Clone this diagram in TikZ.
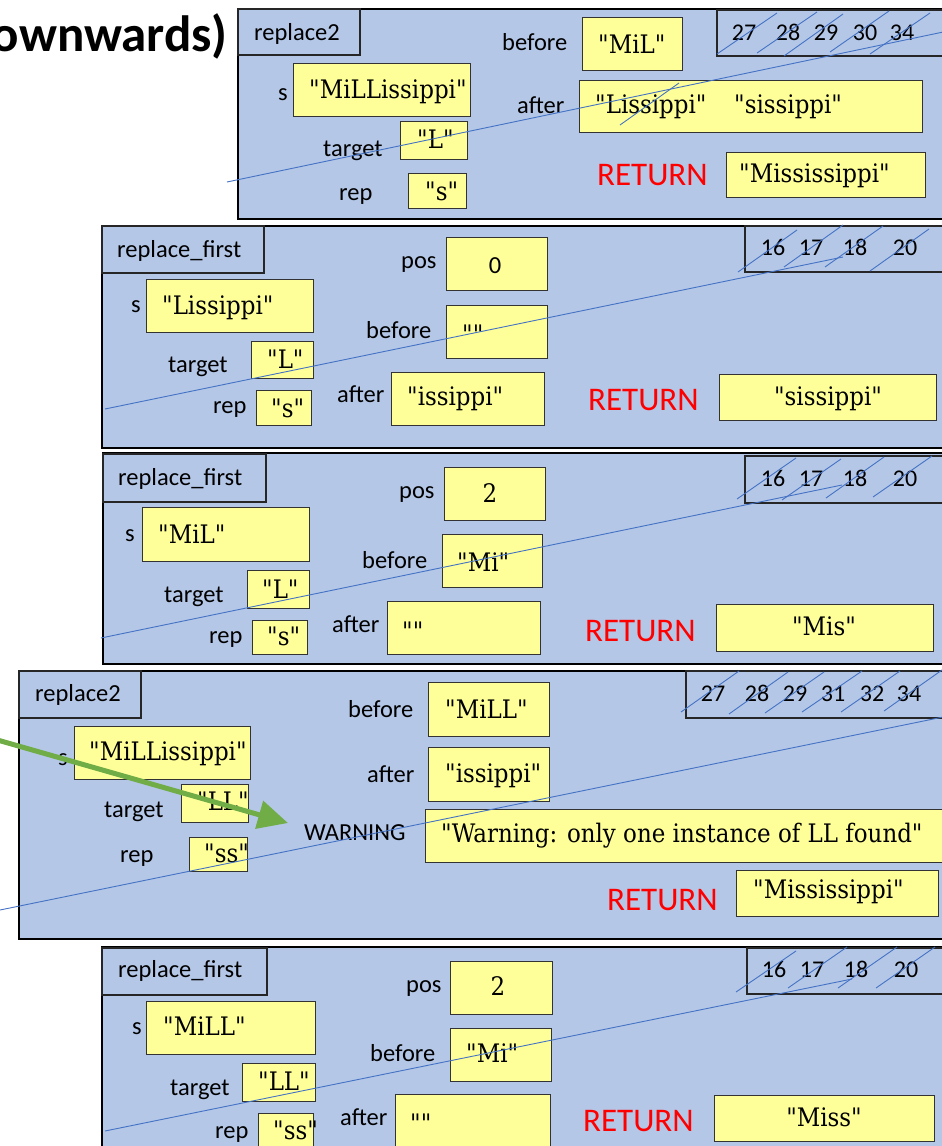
\documentclass[tikz,border=0pt]{standalone}
\usepackage{fontspec}
\setmainfont{Carlito}
\newfontfamily\valfont{DejaVu Serif}[FakeStretch=0.9]
\newfontfamily\labfont{Carlito}
\usetikzlibrary{arrows.meta}
\definecolor{framebg}{HTML}{B4C7E7}
\definecolor{valbg}{HTML}{FFFF99}
\definecolor{strike}{HTML}{4472C4}
\definecolor{arrowgreen}{HTML}{70AD47}
\tikzset{
  frame/.style={draw=black, line width=2pt, fill=framebg},
  tagbox/.style={draw=black!85, line width=1.5pt, fill=framebg},
  timebox/.style={draw=black!85, line width=1.5pt},
  valbox/.style={draw=black!80, line width=1.4pt, fill=valbg},
  lab/.style={font=\labfont\fontsize{24.5}{28}\selectfont, inner sep=0pt},
  val/.style={font=\valfont\fontsize{25.5}{29}\selectfont, inner sep=0pt},
  ret/.style={font=\labfont\fontsize{33}{38}\selectfont, text=red, inner sep=0pt},
  num/.style={font=\labfont\fontsize{24}{28}\selectfont, inner sep=0pt},
  titletext/.style={font=\labfont\bfseries\fontsize{51}{56}\selectfont, inner sep=0pt},
  strikeline/.style={draw=strike, line width=0.9pt},
  greenarrow/.style={draw=arrowgreen, line width=5pt, -{Triangle[length=30pt,width=28pt]}}
}
\newcommand\rbox[6]{\node[#1, anchor=north west, inner sep=0pt, minimum width={#5-#3}, minimum height={#6-#4}] (#2) at (#3,#4) {};}
\newcommand\tx[6]{\node[#1, anchor=#5] (#2) at (#3,#4) {#6};}
\begin{document}
\begin{tikzpicture}[x=1pt,y=-1pt]
\useasboundingbox (0,0) rectangle (942,1146);
% title
\tx{titletext}{title}{228}{51}{base east}{ownwards)}

% ---------- frame 1 ----------
\rbox{frame}{f1}{237}{8}{948}{218}
\rbox{tagbox}{f1tag}{237}{8}{359}{54}
\rbox{timebox}{f1time}{716}{9}{948}{55}
\rbox{valbox}{f1s}{293}{63}{470}{116}
\rbox{valbox}{f1target}{400}{121}{467}{159}
\rbox{valbox}{f1rep}{408}{173}{466}{208}
\rbox{valbox}{f1before}{582}{17}{682}{70}
\rbox{valbox}{f1after}{579}{80}{922}{132}
\rbox{valbox}{f1ret}{726}{152}{925}{197}
\tx{lab}{f1name}{254}{40}{base west}{replace2}
\tx{lab}{f1sl}{278}{100}{base west}{s}
\tx{val}{f1sv}{309}{98}{base west}{"MiLLissippi"}
\tx{lab}{f1tl}{323}{156}{base west}{target}
\tx{val}{f1tv}{417}{148}{base west}{"L"}
\tx{lab}{f1rl}{339}{200}{base west}{rep}
\tx{val}{f1rv}{425}{200}{base west}{"s"}
\tx{lab}{f1bl}{502}{50}{base west}{before}
\tx{val}{f1bv}{598}{53}{base west}{"MiL"}
\tx{lab}{f1al}{517}{113}{base west}{after}
\tx{val}{f1av}{595}{113}{base west}{"Lissippi"}
\tx{val}{f1av2}{734}{113}{base west}{"sissippi"}
\tx{ret}{f1retl}{597}{185}{base west}{RETURN}
\tx{val}{f1retv}{739}{182}{base west}{"Mississippi"}
\tx{num}{f1n1}{744}{40}{base}{27}
\tx{num}{f1n2}{788}{40}{base}{28}
\tx{num}{f1n3}{826}{40}{base}{29}
\tx{num}{f1n4}{865}{40}{base}{30}
\tx{num}{f1n5}{902}{40}{base}{34}

% ---------- frame 2 ----------
\rbox{frame}{f2}{101}{225}{948}{447}
\rbox{tagbox}{f2tag}{101}{225}{263}{272}
\rbox{timebox}{f2time}{744}{225}{948}{271}
\rbox{valbox}{f2pos}{446}{237}{547}{290}
\rbox{valbox}{f2s}{146}{279}{313}{332}
\rbox{valbox}{f2before}{446}{305}{547}{358}
\rbox{valbox}{f2target}{251}{341}{313}{378}
\rbox{valbox}{f2rep}{256}{390}{311}{425}
\rbox{valbox}{f2after}{391}{372}{544}{425}
\rbox{valbox}{f2ret}{719}{374}{936}{420}
\tx{lab}{f2name}{117}{257}{base west}{replace\_first}
\tx{lab}{f2pl}{401}{268}{base west}{pos}
\tx{lab}{f2pv}{495}{273}{base}{0}
\tx{lab}{f2sl}{131}{312}{base west}{s}
\tx{val}{f2sv}{162}{314}{base west}{"Lissippi"}
\tx{lab}{f2bl}{366}{338}{base west}{before}
\tx{val}{f2bv}{462}{343}{base west}{""}
\tx{lab}{f2tl}{168}{372}{base west}{target}
\tx{val}{f2tv}{267}{368}{base west}{"L"}
\tx{lab}{f2rl}{213}{413}{base west}{rep}
\tx{val}{f2rv}{271}{417}{base west}{"s"}
\tx{lab}{f2al}{337}{402}{base west}{after}
\tx{val}{f2av}{407}{405}{base west}{"issippi"}
\tx{ret}{f2retl}{588}{410}{base west}{RETURN}
\tx{val}{f2retv}{828}{405}{base}{"sissippi"}
\tx{num}{f2n1}{773}{255}{base}{16}
\tx{num}{f2n2}{811}{255}{base}{17}
\tx{num}{f2n3}{855}{255}{base}{18}
\tx{num}{f2n4}{905}{255}{base}{20}

% ---------- frame 3 ----------
\rbox{frame}{f3}{102}{452}{948}{663}
\rbox{tagbox}{f3tag}{102}{453}{265}{501}
\rbox{timebox}{f3time}{744}{455}{948}{502}
\rbox{valbox}{f3pos}{444}{467}{545}{520}
\rbox{valbox}{f3s}{142}{507}{309}{561}
\rbox{valbox}{f3before}{442}{534}{542}{587}
\rbox{valbox}{f3target}{247}{570}{309}{608}
\rbox{valbox}{f3rep}{252}{620}{307}{654}
\rbox{valbox}{f3after}{387}{601}{540}{654}
\rbox{valbox}{f3ret}{716}{604}{933}{651}
\tx{lab}{f3name}{118}{485}{base west}{replace\_first}
\tx{lab}{f3pl}{399}{498}{base west}{pos}
\tx{val}{f3pv}{490}{502}{base}{2}
\tx{lab}{f3sl}{125}{541}{base west}{s}
\tx{val}{f3sv}{158}{543}{base west}{"MiL"}
\tx{lab}{f3bl}{362}{568}{base west}{before}
\tx{val}{f3bv}{457}{571}{base west}{"Mi"}
\tx{lab}{f3tl}{164}{602}{base west}{target}
\tx{val}{f3tv}{262}{598}{base west}{"L"}
\tx{lab}{f3rl}{209}{643}{base west}{rep}
\tx{val}{f3rv}{267}{645}{base west}{"s"}
\tx{lab}{f3al}{332}{632}{base west}{after}
\tx{val}{f3av}{402}{640}{base west}{""}
\tx{ret}{f3retl}{585}{641}{base west}{RETURN}
\tx{val}{f3retv}{824}{635}{base}{"Mis"}
\tx{num}{f3n1}{773}{486}{base}{16}
\tx{num}{f3n2}{811}{486}{base}{17}
\tx{num}{f3n3}{855}{486}{base}{18}
\tx{num}{f3n4}{905}{486}{base}{20}

% ---------- frame 4 ----------
\rbox{frame}{f4}{18}{670}{948}{938}
\rbox{tagbox}{f4tag}{18}{670}{140}{717}
\rbox{timebox}{f4time}{685}{670}{948}{717}
\tx{lab}{f4sl}{58}{765}{base west}{s}
\rbox{valbox}{f4s}{74}{726}{250}{779}
\rbox{valbox}{f4target}{181}{784}{248}{822}
\rbox{valbox}{f4rep}{189}{837}{247}{871}
\rbox{valbox}{f4before}{428}{682}{549}{736}
\rbox{valbox}{f4after}{428}{747}{549}{801}
\rbox{valbox}{f4warn}{425}{809}{948}{862}
\rbox{valbox}{f4ret}{736}{870}{938}{916}
\tx{lab}{f4name}{35}{701}{base west}{replace2}
\tx{val}{f4sv}{89}{760}{base west}{"MiLLissippi"}
\tx{lab}{f4tl}{104}{817}{base west}{target}
\tx{val}{f4tv}{197}{810}{base west}{"LL"}
\tx{lab}{f4rl}{120}{862}{base west}{rep}
\tx{val}{f4rv}{204}{862}{base west}{"ss"}
\tx{lab}{f4bl}{348}{717}{base west}{before}
\tx{val}{f4bv}{445}{718}{base west}{"MiLL"}
\tx{lab}{f4al}{367}{782}{base west}{after}
\tx{val}{f4av}{445}{782}{base west}{"issippi"}
\tx{lab}{f4wl}{304}{840}{base west}{WARNING}
\tx{val}{f4wv}{441}{842}{base west}{"Warning: only one instance of LL found"}
\tx{ret}{f4retl}{607}{910}{base west}{RETURN}
\tx{val}{f4retv}{753}{898}{base west}{"Mississippi"}
\tx{num}{f4n1}{713}{701}{base}{27}
\tx{num}{f4n2}{757}{701}{base}{28}
\tx{num}{f4n3}{795}{701}{base}{29}
\tx{num}{f4n4}{833}{701}{base}{31}
\tx{num}{f4n5}{872}{701}{base}{32}
\tx{num}{f4n6}{909}{701}{base}{34}

% ---------- frame 5 ----------
\rbox{frame}{f5}{101}{946}{948}{1152}
\rbox{tagbox}{f5tag}{101}{947}{266}{994}
\rbox{timebox}{f5time}{746}{947}{948}{993}
\rbox{valbox}{f5pos}{450}{961}{552}{1014}
\rbox{valbox}{f5s}{146}{1001}{315}{1054}
\rbox{valbox}{f5before}{450}{1028}{551}{1081}
\rbox{valbox}{f5target}{242}{1063}{315}{1101}
\rbox{valbox}{f5rep}{258}{1113}{313}{1152}
\rbox{valbox}{f5after}{395}{1094}{550}{1152}
\rbox{valbox}{f5ret}{714}{1095}{934}{1141}
\tx{lab}{f5name}{118}{977}{base west}{replace\_first}
\tx{lab}{f5pl}{406}{992}{base west}{pos}
\tx{val}{f5pv}{498}{995}{base}{2}
\tx{lab}{f5sl}{132}{1034}{base west}{s}
\tx{val}{f5sv}{163}{1035}{base west}{"MiLL"}
\tx{lab}{f5bl}{370}{1061}{base west}{before}
\tx{val}{f5bv}{466}{1062}{base west}{"Mi"}
\tx{lab}{f5tl}{170}{1095}{base west}{target}
\tx{val}{f5tv}{258}{1090}{base west}{"LL"}
\tx{lab}{f5rl}{215}{1138}{base west}{rep}
\tx{val}{f5rv}{273}{1139}{base west}{"ss"}
\tx{lab}{f5al}{340}{1125}{base west}{after}
\tx{val}{f5av}{410}{1132}{base west}{""}
\tx{ret}{f5retl}{583}{1131}{base west}{RETURN}
\tx{val}{f5retv}{824}{1126}{base}{"Miss"}
\tx{num}{f5n1}{774}{977}{base}{16}
\tx{num}{f5n2}{812}{977}{base}{17}
\tx{num}{f5n3}{856}{977}{base}{18}
\tx{num}{f5n4}{906}{977}{base}{20}

% ---------- strike lines ----------
\draw[strikeline] (227,182) -- (948,31);
\draw[strikeline] (717,54) -- (777,13);
\draw[strikeline] (757,53) -- (817,12);
\draw[strikeline] (784,56) -- (843,14);
\draw[strikeline] (830,52) -- (889,11);
\draw[strikeline] (870,54) -- (930,13);
\draw[strikeline] (620,125) -- (679,83);

\draw[strikeline] (105,409) -- (843,257);
\draw[strikeline] (738,272) -- (797,230);
\draw[strikeline] (784,267) -- (843,225);
\draw[strikeline] (825,267) -- (883,226);
\draw[strikeline] (870,271) -- (929,229);

\draw[strikeline] (101,638) -- (842,485);
\draw[strikeline] (737,499) -- (796,458);
\draw[strikeline] (782,500) -- (841,459);
\draw[strikeline] (826,498) -- (884,457);
\draw[strikeline] (873,497) -- (932,456);

\draw[strikeline] (0,910) -- (948,716);
\draw[strikeline] (681,712) -- (739,671);
\draw[strikeline] (729,714) -- (788,672);
\draw[strikeline] (765,713) -- (824,672);
\draw[strikeline] (802,712) -- (862,671);
\draw[strikeline] (841,712) -- (900,671);
\draw[strikeline] (884,711) -- (942,670);

\draw[strikeline] (105,1131) -- (852,979);
\draw[strikeline] (736,992) -- (796,951);
\draw[strikeline] (788,988) -- (847,947);
\draw[strikeline] (838,988) -- (897,947);
\draw[strikeline] (876,988) -- (935,947);

% ---------- green arrow ----------
\coordinate (arrowstart) at (-6,739);
\coordinate (arrowend) at (288,823);
\draw[greenarrow] (arrowstart) -- (arrowend);
\end{tikzpicture}
\end{document}
